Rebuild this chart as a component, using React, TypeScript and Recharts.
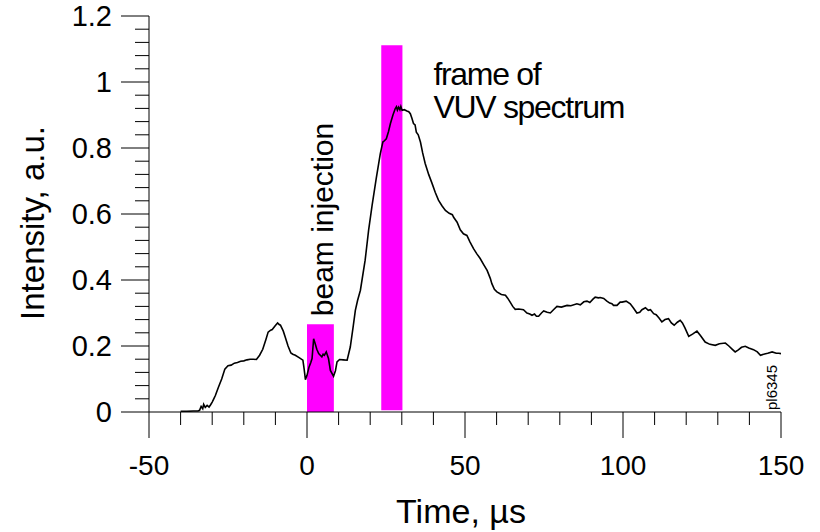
import React from 'react';
import { ComposedChart, Line, XAxis, YAxis, ReferenceArea } from 'recharts';

// Time (µs) and intensity (a.u.)
const timeUs = [
  -40, -38, -36, -34.5, -34, -33.5, -33, -32.7, -32.2, -31.6, -31, -30.5, -30, -29.5, -29, -28, -27, -26,
  -25, -24, -23, -22, -21, -20, -19, -18, -17, -16, -15, -14, -13, -12.3, -11.5, -11, -10, -9.3, -8.8,
  -8.4, -7.5, -6.9, -6, -5.1, -4.5, -3.7, -2.5, -1.3, -0.9, -0.5, 0, 0.6, 1.2, 1.6, 2.1, 2.6, 3.1, 3.7,
  4.2, 4.7, 5.1, 5.5, 6.1, 6.8, 7.4, 8.4, 9, 9.5, 10.3, 11.5, 12.7, 13.7, 14.6, 15.3, 16, 16.9, 18.4,
  19.5, 20.6, 21.9, 23.2, 24, 24.5, 25.1, 25.8, 26.4, 27.2, 27.9, 28.3, 28.6, 29, 29.4, 29.7, 30.1, 30.8,
  31.6, 32.2, 32.7, 33.2, 33.7, 34.2, 34.6, 35.2, 35.9, 36.6, 37.4, 38.5, 39.6, 40.6, 41.6, 42.7, 43.8,
  45, 46, 46.4, 47.5, 48.5, 49.5, 50.6, 51.6, 52.7, 53.7, 54.8, 56, 57, 58, 58.5, 59.3, 60.1, 61.5, 62.8,
  63.5, 64.3, 65.1, 65.9, 67, 68.5, 69.6, 70.5, 71.2, 72, 72.6, 73.3, 74.2, 74.9, 76, 77, 78, 79.1, 80.5,
  82.3, 83.5, 85.4, 86.5, 87.6, 88.6, 89.5, 90.5, 91.2, 92.2, 92.8, 93.9, 94.9, 95.8, 96.5, 97, 98.1,
  99.1, 99.7, 101, 102.3, 103.3, 104.4, 105.3, 106, 107.1, 108, 108.7, 109.7, 110.5, 111.4, 112.3, 113.3,
  114.4, 115.3, 116.2, 117.2, 118.1, 118.8, 119.6, 120.8, 122, 123.4, 124.5, 126, 127.5, 129.2, 130.5,
  132.4, 133.5, 134.6, 135.5, 136.5, 137.5, 138.7, 139.8, 141.3, 142.5, 143.5, 144.8, 145.8, 147.2,
  148.5, 149.3, 150,
];
const intensity = [
  0.002, 0.002, 0.003, 0.003, 0.005, 0.017, 0.01, 0.023, 0.014, 0.02, 0.015, 0.022, 0.03, 0.04, 0.05, 0.076,
  0.1, 0.13, 0.14, 0.142, 0.148, 0.15, 0.154, 0.155, 0.158, 0.16, 0.16, 0.159, 0.172, 0.19, 0.22, 0.242,
  0.248, 0.25, 0.262, 0.27, 0.265, 0.263, 0.245, 0.227, 0.2, 0.179, 0.175, 0.172, 0.165, 0.157, 0.13,
  0.098, 0.111, 0.135, 0.15, 0.162, 0.222, 0.207, 0.19, 0.177, 0.172, 0.167, 0.175, 0.172, 0.182, 0.162,
  0.126, 0.108, 0.125, 0.152, 0.159, 0.158, 0.157, 0.197, 0.258, 0.308, 0.338, 0.369, 0.46, 0.551, 0.626,
  0.707, 0.783, 0.818, 0.822, 0.828, 0.85, 0.874, 0.9, 0.919, 0.925, 0.915, 0.924, 0.916, 0.926, 0.914,
  0.916, 0.912, 0.91, 0.904, 0.89, 0.874, 0.87, 0.848, 0.84, 0.818, 0.785, 0.753, 0.72, 0.692, 0.665,
  0.642, 0.625, 0.611, 0.602, 0.598, 0.59, 0.575, 0.552, 0.54, 0.535, 0.515, 0.495, 0.48, 0.465, 0.445,
  0.429, 0.405, 0.389, 0.372, 0.364, 0.356, 0.354, 0.345, 0.333, 0.32, 0.311, 0.312, 0.31, 0.3, 0.297,
  0.293, 0.297, 0.29, 0.29, 0.3, 0.306, 0.302, 0.3, 0.31, 0.32, 0.318, 0.323, 0.322, 0.328, 0.325, 0.334,
  0.336, 0.332, 0.342, 0.348, 0.346, 0.347, 0.344, 0.336, 0.33, 0.328, 0.323, 0.323, 0.333, 0.333, 0.336,
  0.328, 0.315, 0.3, 0.302, 0.31, 0.316, 0.308, 0.31, 0.298, 0.295, 0.285, 0.273, 0.28, 0.283, 0.27,
  0.263, 0.272, 0.278, 0.27, 0.255, 0.229, 0.236, 0.245, 0.232, 0.212, 0.205, 0.202, 0.207, 0.209, 0.2,
  0.19, 0.182, 0.188, 0.196, 0.199, 0.194, 0.189, 0.182, 0.172, 0.176, 0.178, 0.182, 0.178, 0.178, 0.177,
];

const xTicks = [-50, -40, -30, -20, -10, 0, 10, 20, 30, 40, 50, 60, 70, 80, 90, 100, 110, 120, 130, 140, 150];
const xMajorTicks = [-50, 0, 50, 100, 150];
const yTicks = [
  0, 0.04, 0.08, 0.12, 0.16, 0.2, 0.24, 0.28, 0.32, 0.36, 0.4, 0.44, 0.48, 0.52, 0.56, 0.6, 0.64, 0.68,
  0.72, 0.76, 0.8, 0.84, 0.88, 0.92, 0.96, 1, 1.04, 1.08, 1.12, 1.16, 1.2,
];
const yMajorTicks = [0, 0.2, 0.4, 0.6, 0.8, 1, 1.2];

// Highlighted windows: [start, end] in µs, [bottom, top] in a.u.
const beamWindow = [0, 8.5];
const beamLevels = [0, 0.266];
const vuvWindow = [23.5, 30.2];
const vuvLevels = [0.005, 1.111];

const beamLabel = 'beam injection';
const vuvLabelLines = ['frame of', 'VUV spectrum'];
const xTitle = 'Time, µs';
const yTitle = 'Intensity, a.u.';
const plotId = 'pl6345';

const data = timeUs.map((t, i) => ({ t, v: intensity[i] }));

const FONT = '"Liberation Sans", Arial, sans-serif';

const XTick = (props: any) => {
  const { x, y, payload } = props;
  const major = xMajorTicks.includes(payload.value);
  return (
    <g>
      <line x1={x} y1={y} x2={x} y2={y + (major ? 26 : 13)} stroke="#000" strokeWidth={1} />
      {major && (
        <text x={x} y={y + 63} textAnchor="middle" fontSize={28} fontFamily={FONT} fill="#000">
          {payload.value}
        </text>
      )}
    </g>
  );
};

const YTick = (props: any) => {
  const { x, y, payload } = props;
  const major = yMajorTicks.includes(payload.value);
  return (
    <g>
      <line x1={x - (major ? 28 : 14)} y1={y} x2={x} y2={y} stroke="#000" strokeWidth={1} />
      {major && (
        <text x={x - 37} y={y + 10} textAnchor="end" fontSize={29} fontFamily={FONT} fill="#000">
          {String(payload.value)}
        </text>
      )}
    </g>
  );
};

const XTitle = (props: any) => {
  const vb = props.viewBox;
  const cx = vb.x + vb.width / 2 - 4;
  const right = vb.x + vb.width;
  return (
    <g>
      <text x={cx} y={vb.y + 111} textAnchor="middle" fontSize={34} fontFamily={FONT} fill="#000">
        {xTitle}
      </text>
      <text
        x={right - 4}
        y={vb.y - 2}
        transform={`rotate(-90, ${right - 4}, ${vb.y - 2})`}
        fontSize={15}
        fontFamily={FONT}
        fill="#000"
      >
        {plotId}
      </text>
    </g>
  );
};

const YTitle = (props: any) => {
  const vb = props.viewBox;
  const cy = vb.y + vb.height / 2 + 9;
  return (
    <text
      x={44}
      y={cy}
      transform={`rotate(-90, 44, ${cy})`}
      textAnchor="middle"
      fontSize={33}
      fontFamily={FONT}
      fill="#000"
    >
      {yTitle}
    </text>
  );
};

const BeamLabel = (props: any) => {
  const vb = props.viewBox;
  const bx = vb.x + vb.width - 1;
  const by = vb.y - 8;
  return (
    <text x={bx} y={by} transform={`rotate(-90, ${bx}, ${by})`} fontSize={30} fontFamily={FONT} fill="#000">
      {beamLabel}
    </text>
  );
};

const VuvLabel = (props: any) => {
  const vb = props.viewBox;
  const lx = vb.x + vb.width + 31;
  return (
    <g>
      {vuvLabelLines.map((s, i) => (
        <text key={s} x={lx} y={vb.y + 40 + i * 33} fontSize={32} letterSpacing={-1.3} fontFamily={FONT} fill="#000">
          {s}
        </text>
      ))}
    </g>
  );
};

export default function App() {
  return (
    <div style={{ position: 'absolute', left: 0, top: 0, width: 820, height: 532, background: '#fff' }}>
      <ComposedChart width={820} height={532} data={data} margin={{ top: 16, right: 39, bottom: 0, left: 0 }}>
        <XAxis
          dataKey="t"
          type="number"
          domain={[-50, 150]}
          ticks={xTicks}
          interval={0}
          allowDataOverflow
          height={120}
          tickSize={0}
          tickMargin={0}
          tickLine={false}
          axisLine={{ stroke: '#000', strokeWidth: 1 }}
          tick={<XTick />}
          label={XTitle}
        />
        <YAxis
          type="number"
          domain={[0, 1.2]}
          ticks={yTicks}
          interval={0}
          allowDataOverflow
          width={149}
          tickSize={0}
          tickMargin={0}
          tickLine={false}
          axisLine={{ stroke: '#000', strokeWidth: 1 }}
          tick={<YTick />}
          label={YTitle}
        />
        <ReferenceArea
          x1={beamWindow[0]}
          x2={beamWindow[1]}
          y1={beamLevels[0]}
          y2={beamLevels[1]}
          fill="#ff00ff"
          fillOpacity={1}
          stroke="none"
          label={BeamLabel}
        />
        <ReferenceArea
          x1={vuvWindow[0]}
          x2={vuvWindow[1]}
          y1={vuvLevels[0]}
          y2={vuvLevels[1]}
          fill="#ff00ff"
          fillOpacity={1}
          stroke="none"
          label={VuvLabel}
        />
        <Line
          dataKey="v"
          type="linear"
          dot={false}
          stroke="#000"
          strokeWidth={1.6}
          isAnimationActive={false}
        />
      </ComposedChart>
    </div>
  );
}
